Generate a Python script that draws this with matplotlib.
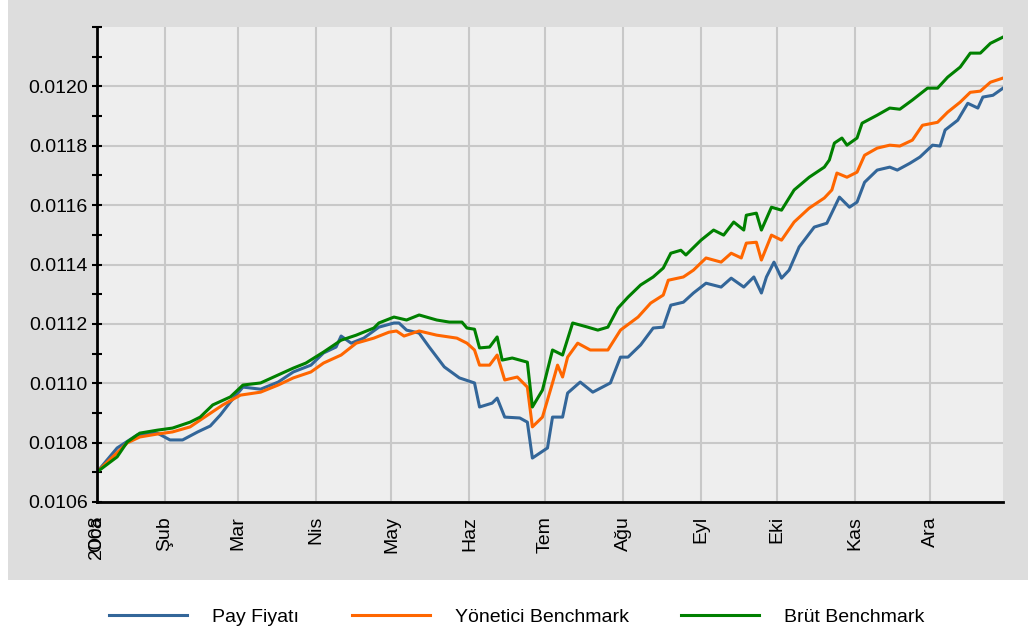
import pandas as pd
import matplotlib
matplotlib.use('Agg')
import matplotlib.pyplot as plt
from matplotlib.patches import Rectangle
from matplotlib.ticker import MultipleLocator, FormatStrFormatter

plt.rcParams['font.family'] = ['Liberation Sans', 'DejaVu Sans']

# Days since 2008-01-01 and values
gun_pay = [4, 12, 20, 28, 33, 38, 44, 49, 53, 57, 62, 69, 76, 82, 89, 94, 99, 101, 105, 110,
           116, 122, 124, 127, 132, 136, 142, 148, 154, 156, 161, 163, 166, 172, 175, 177, 183,
           185, 189, 191, 196, 201, 208, 212, 215, 220, 225, 229, 232, 237, 241, 246, 252, 256,
           261, 265, 268, 270, 273, 276, 279, 283, 289, 294, 299, 303, 306, 309, 314, 319, 322,
           327, 331, 336, 339, 341, 346, 350, 354, 356, 360, 364]
pay = [0.010701, 0.010782, 0.010826, 0.010832, 0.010809, 0.010809, 0.010836, 0.010856, 0.010893,
       0.010937, 0.010987, 0.010980, 0.011004, 0.011038, 0.011061, 0.011102, 0.011122, 0.011159,
       0.011135, 0.011152, 0.011189, 0.011203, 0.011203, 0.011179, 0.011169, 0.011122, 0.011055,
       0.011018, 0.011001, 0.010920, 0.010933, 0.010950, 0.010886, 0.010883, 0.010869, 0.010748,
       0.010782, 0.010886, 0.010886, 0.010967, 0.011004, 0.010970, 0.011001, 0.011088, 0.011088,
       0.011129, 0.011186, 0.011189, 0.011263, 0.011273, 0.011304, 0.011337, 0.011324, 0.011354,
       0.011324, 0.011358, 0.011304, 0.011358, 0.011408, 0.011354, 0.011381, 0.011459, 0.011526,
       0.011539, 0.011627, 0.011593, 0.011610, 0.011677, 0.011718, 0.011728, 0.011718, 0.011741,
       0.011762, 0.011802, 0.011799, 0.011853, 0.011886, 0.011943, 0.011927, 0.011964, 0.011970,
       0.011994]

gun_yon = [4, 16, 21, 28, 34, 41, 48, 54, 61, 69, 76, 82, 89, 94, 101, 107, 114, 120, 123, 126,
           132, 139, 147, 151, 154, 156, 160, 163, 166, 171, 175, 177, 181, 185, 187, 189, 191,
           195, 200, 207, 212, 219, 224, 229, 231, 237, 241, 246, 252, 256, 260, 262, 266, 268,
           272, 276, 281, 287, 293, 296, 298, 302, 306, 309, 314, 319, 323, 328, 332, 338, 342,
           347, 351, 355, 359, 364]
yonetici = [0.010701, 0.010799, 0.010819, 0.010829, 0.010836, 0.010853, 0.010893, 0.010927,
            0.010960, 0.010970, 0.010994, 0.011018, 0.011038, 0.011068, 0.011095, 0.011135,
            0.011152, 0.011172, 0.011176, 0.011159, 0.011176, 0.011162, 0.011152, 0.011135,
            0.011112, 0.011061, 0.011061, 0.011095, 0.011011, 0.011021, 0.010987, 0.010853,
            0.010886, 0.011001, 0.011061, 0.011021, 0.011088, 0.011135, 0.011112, 0.011112,
            0.011179, 0.011223, 0.011270, 0.011297, 0.011347, 0.011358, 0.011381, 0.011422,
            0.011408, 0.011438, 0.011422, 0.011472, 0.011475, 0.011415, 0.011499, 0.011482,
            0.011543, 0.011590, 0.011624, 0.011651, 0.011708, 0.011694, 0.011711, 0.011768,
            0.011792, 0.011802, 0.011799, 0.011819, 0.011869, 0.011879, 0.011913, 0.011947,
            0.011980, 0.011984, 0.012014, 0.012028]

gun_brut = [4, 12, 16, 21, 28, 34, 41, 45, 50, 57, 62, 69, 76, 82, 87, 94, 101, 107, 114, 116,
            122, 127, 132, 139, 144, 149, 151, 154, 156, 160, 163, 165, 169, 175, 177, 181, 185,
            189, 193, 199, 203, 207, 211, 215, 220, 225, 229, 232, 236, 238, 244, 249, 253, 257,
            261, 262, 266, 268, 272, 276, 281, 287, 293, 295, 297, 300, 302, 306, 308, 314, 319,
            323, 328, 334, 338, 342, 347, 351, 355, 359, 364]
brut = [0.010701, 0.010752, 0.010802, 0.010832, 0.010842, 0.010849, 0.010869, 0.010886, 0.010927,
        0.010954, 0.010994, 0.011001, 0.011028, 0.011051, 0.011068, 0.011105, 0.011145, 0.011162,
        0.011186, 0.011203, 0.011223, 0.011213, 0.011230, 0.011213, 0.011206, 0.011206, 0.011186,
        0.011182, 0.011119, 0.011122, 0.011156, 0.011078, 0.011085, 0.011071, 0.010920, 0.010977,
        0.011112, 0.011095, 0.011203, 0.011189, 0.011179, 0.011189, 0.011253, 0.011290, 0.011331,
        0.011358, 0.011388, 0.011438, 0.011448, 0.011432, 0.011482, 0.011516, 0.011499, 0.011543,
        0.011516, 0.011566, 0.011573, 0.011516, 0.011593, 0.011583, 0.011651, 0.011694, 0.011728,
        0.011752, 0.011809, 0.011826, 0.011802, 0.011826, 0.011876, 0.011903, 0.011927, 0.011923,
        0.011954, 0.011994, 0.011994, 0.012031, 0.012065, 0.012112, 0.012112, 0.012145, 0.012166]

ay_etiketleri = ['Oca', 'Şub', 'Mar', 'Nis', 'May', 'Haz', 'Tem', 'Ağu', 'Eyl', 'Eki', 'Kas', 'Ara']
yil_etiketi = '2008'

baslangic = pd.Timestamp('2008-01-01')


def to_dates(gunler):
    return baslangic + pd.to_timedelta(gunler, unit='D')


fig = plt.figure(figsize=(10.28, 6.34), dpi=100)
fig.patch.set_facecolor('white')

# gray panel behind the plot
fig.patches.append(Rectangle((8 / 1028, 1 - 580 / 634), 1.0, 1.0, transform=fig.transFigure,
                             facecolor='#dddddd', edgecolor='none', zorder=-10))

ax = fig.add_axes([97 / 1028, 1 - 502 / 634, 906 / 1028, 475 / 634])
ax.set_zorder(1)
ax.set_facecolor('#eeeeee')

ax.plot(to_dates(gun_pay), pay, color='#336699', linewidth=2.2, label='Pay Fiyatı')
ax.plot(to_dates(gun_yon), yonetici, color='#ff6600', linewidth=2.2, label='Yönetici Benchmark')
ax.plot(to_dates(gun_brut), brut, color='#008000', linewidth=2.2, label='Brüt Benchmark')

x0 = baslangic + pd.Timedelta(days=4)
x1 = baslangic + pd.Timedelta(days=364)
ax.set_xlim(x0, x1)
ax.set_ylim(0.0106, 0.0122)

# month ticks; the first one sits on the axis start, with the year label over it
ay_baslari = [x0] + list(pd.date_range('2008-02-01', periods=11, freq='MS'))
ax.xaxis.remove_overlapping_locs = False
ax.set_xticks(ay_baslari, labels=ay_etiketleri)
ax.set_xticks([x0], labels=[yil_etiketi], minor=True)
ax.tick_params(axis='x', which='both', length=0, pad=10, labelsize=14, labelrotation=90)
for lbl in ax.get_xticklabels(which='both'):
    lbl.set_verticalalignment('top')

ax.yaxis.set_major_locator(MultipleLocator(0.0002))
ax.yaxis.set_minor_locator(MultipleLocator(0.0001))
ax.yaxis.set_major_formatter(FormatStrFormatter('%.4f'))
ax.set_yticks([0.0106 + 0.0002 * i for i in range(8)])
ax.tick_params(axis='y', which='both', direction='inout', length=7, width=1.5, pad=3, labelsize=14)

ax.grid(True, which='major', color='#c8c8c8', linewidth=1.5)
ax.set_axisbelow(True)

for side in ['top', 'right']:
    ax.spines[side].set_visible(False)
ax.spines['left'].set_linewidth(2)
ax.spines['bottom'].set_linewidth(2)

fig.legend(loc='center', bbox_to_anchor=(517 / 1028, 1 - 617 / 634), ncol=3, frameon=False,
           fontsize=14, handlelength=4.0, handletextpad=1.3, columnspacing=2.7)

plt.savefig('out.png', dpi=100)
